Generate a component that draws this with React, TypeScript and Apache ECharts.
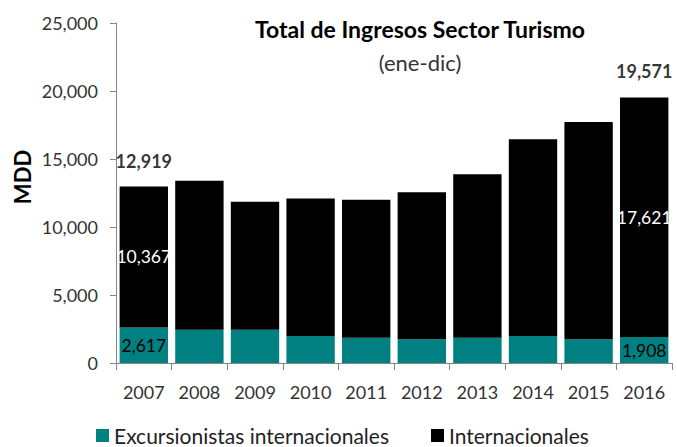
import React, { useEffect, useRef } from "react";
import * as echarts from "echarts";

const years = ["2007", "2008", "2009", "2010", "2011", "2012", "2013", "2014", "2015", "2016"];
const excursionistas = [2617, 2450, 2450, 1990, 1860, 1740, 1860, 1990, 1740, 1908];
const internacionales = [10367, 10950, 9410, 10110, 10140, 10810, 12010, 14470, 15980, 17621];
const totals: (number | string)[] = [12919, "-", "-", "-", "-", "-", "-", "-", "-", 19571];
const labelYears = ["2007", "2016"];

const FONT = "Lato, 'Open Sans', sans-serif";
const fmt = (v: number) => v.toLocaleString("en-US");

export default function App() {
  const ref = useRef<HTMLDivElement>(null);
  useEffect(() => {
    if (!ref.current) return;
    const chart = echarts.init(ref.current, undefined, { renderer: "svg" });
    chart.setOption({
      animation: false,
      textStyle: { fontFamily: FONT },
      title: [
        {
          text: "Total de Ingresos Sector Turismo",
          left: 415,
          top: 12,
          textAlign: "center",
          textStyle: { fontFamily: FONT, fontSize: 23, fontWeight: "bold", color: "#000" },
        },
        {
          text: "(ene-dic)",
          left: 415,
          top: 46,
          textAlign: "center",
          textStyle: { fontFamily: FONT, fontSize: 22, fontWeight: "normal", color: "#333" },
        },
      ],
      graphic: [
        {
          type: "text",
          x: 22,
          y: 177,
          rotation: Math.PI / 2,
          style: {
            text: "MDD",
            fontFamily: FONT,
            fontSize: 22,
            fontWeight: "bold",
            fill: "#000",
            textAlign: "center",
            textVerticalAlign: "middle",
          },
        },
      ],
      legend: {
        left: 91,
        top: 420,
        icon: "rect",
        itemWidth: 13,
        itemHeight: 13,
        itemGap: 42,
        textStyle: { fontFamily: FONT, fontSize: 21, lineHeight: 21, color: "#222" },
        data: ["Excursionistas internacionales", "Internacionales"],
      },
      grid: { left: 116, right: 5, top: 23, bottom: 84 },
      xAxis: {
        type: "category",
        data: years,
        axisLine: { lineStyle: { color: "#868686" } },
        axisTick: { show: true, length: 7, lineStyle: { color: "#868686" } },
        axisLabel: { interval: 0, fontFamily: FONT, fontSize: 18, color: "#333", margin: 20 },
      },
      yAxis: {
        type: "value",
        min: 0,
        max: 25000,
        interval: 5000,
        axisLine: { show: true, lineStyle: { color: "#868686" } },
        axisTick: { show: true, length: 6, lineStyle: { color: "#868686" } },
        splitLine: { show: false },
        axisLabel: {
          fontFamily: FONT,
          fontSize: 18,
          color: "#333",
          margin: 18,
          formatter: (v: number) => fmt(v),
        },
      },
      series: [
        {
          name: "Excursionistas internacionales",
          type: "bar",
          stack: "t",
          barCategoryGap: "13%",
          itemStyle: { color: "#008080" },
          data: excursionistas.map((v, i) => ({
            value: v,
            label: {
              show: labelYears.includes(years[i]),
              position: "inside",
              formatter: (p: any) => fmt(p.value),
              color: "#000",
              fontFamily: FONT,
              fontSize: 17.5,
            },
          })),
        },
        {
          name: "Internacionales",
          type: "bar",
          stack: "t",
          barCategoryGap: "13%",
          itemStyle: { color: "#000" },
          data: internacionales.map((v, i) => ({
            value: v,
            label: {
              show: labelYears.includes(years[i]),
              position: "inside",
              formatter: (p: any) => fmt(p.value),
              color: "#fff",
              fontFamily: FONT,
              fontSize: 17.5,
            },
          })),
        },
        {
          name: "Total",
          type: "scatter",
          symbolSize: 0,
          data: totals,
          label: {
            show: true,
            position: "top",
            distance: 17,
            formatter: (p: any) => fmt(p.value),
            color: "#000",
            fontFamily: FONT,
            fontSize: 18,
            fontWeight: "bold",
          },
        },
      ],
    });
    return () => chart.dispose();
  }, []);
  return <div ref={ref} style={{ width: 677, height: 447, position: "absolute", left: 0, top: 0 }} />;
}
